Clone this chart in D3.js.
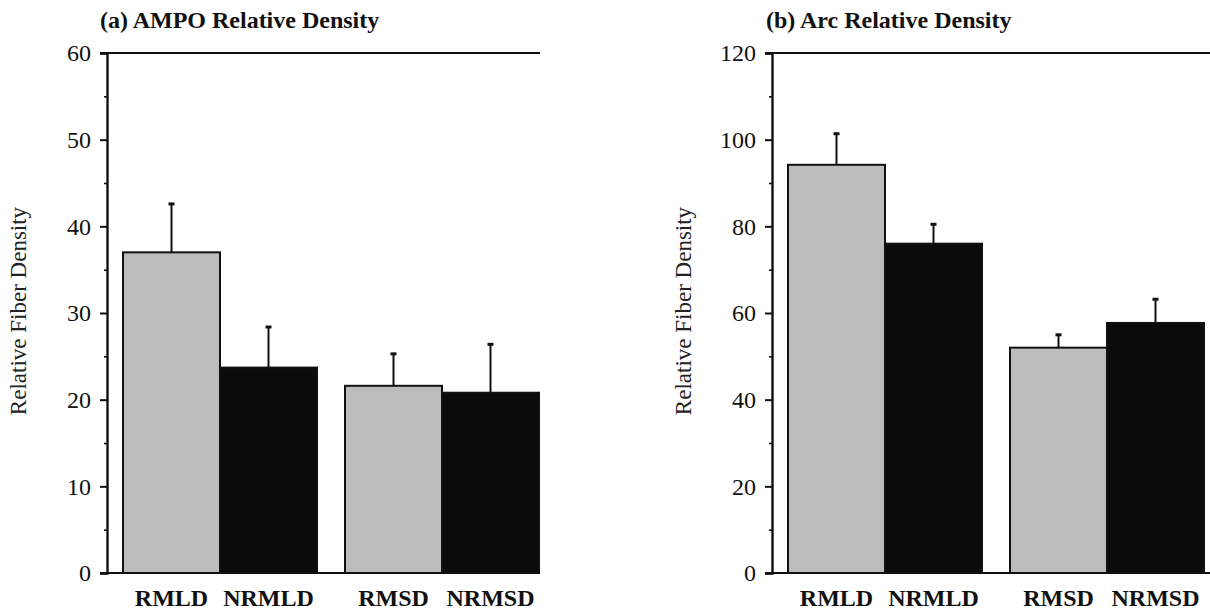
<!DOCTYPE html>
<html>
<head>
<meta charset="utf-8">
<script src="https://cdn.jsdelivr.net/npm/d3@7"></script>
<style>
  html, body { margin: 0; padding: 0; background: #fff; }
  svg { display: block; }
  text { font-family: "Liberation Serif", "Times New Roman", serif; }
</style>
</head>
<body>
<svg id="chart" width="1210" height="615"></svg>
<script>
// ---- data ----
const categories = ["RMLD", "NRMLD", "RMSD", "NRMSD"];
const groups = ["MLD", "MSD"];
const ampoMeans = [37.0, 23.7, 21.6, 20.8];
const ampoSem   = [5.7, 4.8, 3.8, 5.7];
const arcMeans  = [94.2, 76.0, 52.0, 57.7];
const arcSem    = [7.4, 4.7, 3.2, 5.7];
const ampoTicks = [0, 10, 20, 30, 40, 50, 60];
const arcTicks  = [0, 20, 40, 60, 80, 100, 120];
const titles = ["(a) AMPO Relative Density", "(b) Arc Relative Density"];
const yTitle = "Relative Fiber Density";
const fills = ["#bcbcbc", "#0b0b0b"];

const svg = d3.select("#chart");

function panel(opt) {
  const g = svg.append("g");
  const y = d3.scaleLinear().domain([0, opt.max]).range([573, 53]);
  const outer = d3.scaleBand().domain(groups)
    .range([opt.axisX + 16, opt.axisX + 16 + 416]).paddingInner(28 / 222).paddingOuter(0);
  const inner = d3.scaleBand().domain([0, 1]).range([0, outer.bandwidth()]).padding(0);
  const xPos = i => outer(groups[Math.floor(i / 2)]) + inner(i % 2);
  const bw = inner.bandwidth();

  // top frame line & baseline
  g.append("line").attr("x1", opt.axisX - 7).attr("x2", opt.lineEnd)
    .attr("y1", y(opt.max)).attr("y2", y(opt.max))
    .attr("stroke", "#111").attr("stroke-width", 2.2);
  g.append("line").attr("x1", opt.axisX - 7).attr("x2", opt.lineEnd)
    .attr("y1", y(0)).attr("y2", y(0))
    .attr("stroke", "#111").attr("stroke-width", 2.2);

  const data = opt.means.map((m, i) => ({ cat: categories[i], m, e: opt.sem[i], i }));

  // error bars (upper only)
  data.forEach(d => {
    const cx = xPos(d.i) + bw / 2;
    g.append("line").attr("x1", cx).attr("x2", cx)
      .attr("y1", y(d.m)).attr("y2", y(d.m + d.e))
      .attr("stroke", "#111").attr("stroke-width", 2);
    g.append("line").attr("x1", cx - 3).attr("x2", cx + 3)
      .attr("y1", y(d.m + d.e) + 1).attr("y2", y(d.m + d.e) + 1)
      .attr("stroke", "#111").attr("stroke-width", 3);
  });

  // bars
  g.selectAll("rect.bar").data(data).join("rect").attr("class", "bar")
    .attr("x", d => xPos(d.i)).attr("width", bw)
    .attr("y", d => y(d.m)).attr("height", d => y(0) - y(d.m))
    .attr("fill", d => fills[d.i % 2])
    .attr("stroke", "#111").attr("stroke-width", 2);

  // y axis
  const axis = d3.axisLeft(y).tickValues(opt.ticks).tickSize(7).tickPadding(9)
    .tickFormat(d3.format("d"));
  const ax = g.append("g").attr("transform", `translate(${opt.axisX},0)`).call(axis);
  ax.select(".domain").attr("stroke", "#111").attr("stroke-width", 2.4);
  ax.selectAll(".tick line").attr("stroke", "#111").attr("stroke-width", 2);
  ax.selectAll(".tick text").attr("font-size", 24).attr("fill", "#111")
    .attr("font-family", "'Liberation Serif', serif");
  const minors = opt.ticks.slice(0, -1).map((t, k) => (t + opt.ticks[k + 1]) / 2);
  const mAxis = d3.axisLeft(y).tickValues(minors).tickSize(3).tickFormat("");
  const mx = g.append("g").attr("transform", `translate(${opt.axisX},0)`).call(mAxis);
  mx.select(".domain").remove();
  mx.selectAll(".tick line").attr("stroke", "#111").attr("stroke-width", 1.6);

  // x category labels
  g.selectAll("text.xl").data(data).join("text").attr("class", "xl")
    .attr("x", d => xPos(d.i) + bw / 2).attr("y", 606)
    .attr("text-anchor", "middle").attr("font-size", 24).attr("font-weight", "bold")
    .attr("fill", "#111").text(d => d.cat);

  // panel title
  g.append("text").attr("x", opt.titleX).attr("y", 28)
    .attr("font-size", 24).attr("font-weight", "bold").attr("fill", "#111")
    .text(opt.title);

  // y axis title
  g.append("text")
    .attr("transform", `translate(${opt.yTitleX},${311}) rotate(-90)`)
    .attr("text-anchor", "middle").attr("font-size", 23).attr("fill", "#222")
    .text(yTitle);
}

panel({ axisX: 107, max: 60, means: ampoMeans, sem: ampoSem, ticks: ampoTicks,
        lineEnd: 540, title: titles[0], titleX: 100, yTitleX: 26 });
panel({ axisX: 772, max: 120, means: arcMeans, sem: arcSem, ticks: arcTicks,
        lineEnd: 1210, title: titles[1], titleX: 766, yTitleX: 691 });
</script>
</body>
</html>
